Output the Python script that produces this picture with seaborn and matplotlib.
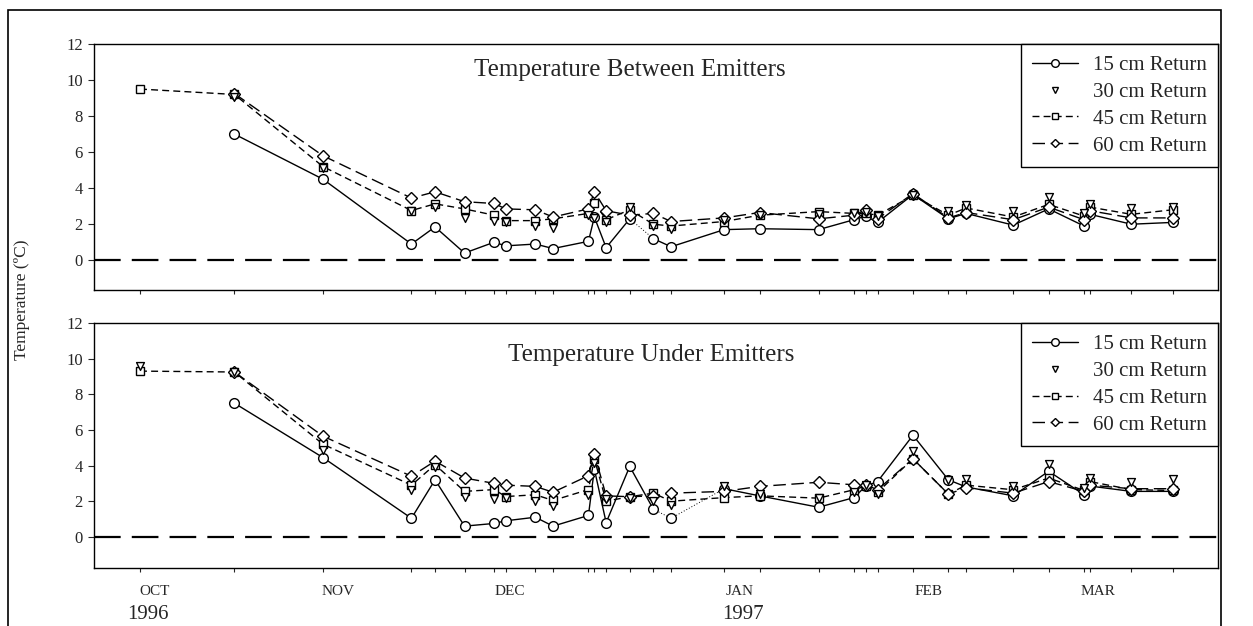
import numpy as np
import pandas as pd
import matplotlib.pyplot as plt
import seaborn as sns
from matplotlib.lines import Line2D
from matplotlib.patches import Rectangle
import matplotlib.transforms as mtransforms

nan = np.nan

# sampling dates, days after 1 Oct 1996
days = [0, 16, 31, 46, 50, 55, 60, 62, 67, 70, 76, 77, 79, 83, 87, 90, 99, 105,
        115, 121, 123, 125, 131, 137, 140, 148, 154, 160, 161, 168, 175]

series = ["15 cm Return", "30 cm Return", "45 cm Return", "60 cm Return"]

# Temperature Between Emitters
top_15 = [nan, 7.0, 4.5, 0.9, 1.85, 0.4, 1.0, 0.8, 0.9, 0.65, 1.05, 2.4, 0.7, 2.3, 1.2, 0.75,
          1.7, 1.75, 1.7, 2.25, 2.45, 2.1, 3.65, 2.3, 2.6, 1.95, 2.85, 1.9, 2.55, 2.0, 2.1]
top_30 = [nan, 9.05, 5.1, 2.75, 2.95, 2.35, 2.2, 2.1, 1.9, 1.8, 2.5, 2.35, 2.15, 2.95, 1.9, 1.75,
          2.25, 2.5, 2.55, 2.6, 2.7, 2.45, 3.6, 2.75, 3.05, 2.75, 3.5, 2.6, 3.1, 2.9, 2.95]
top_45 = [9.5, 9.2, 5.2, 2.76, 3.13, 2.85, 2.5, 2.2, 2.2, 2.3, 2.6, 3.2, 2.25, 2.8, 2.0, 1.9,
          2.15, 2.5, 2.7, 2.6, 2.6, 2.5, 3.6, 2.5, 2.9, 2.4, 3.1, 2.45, 2.95, 2.55, 2.8]
top_60 = [nan, 9.25, 5.8, 3.45, 3.8, 3.25, 3.15, 2.85, 2.8, 2.4, 2.85, 3.8, 2.75, 2.5, 2.6, 2.15,
          2.35, 2.65, 2.3, 2.5, 2.8, 2.3, 3.7, 2.35, 2.65, 2.25, 2.95, 2.25, 2.75, 2.35, 2.35]

# Temperature Under Emitters
bot_15 = [nan, 7.5, 4.45, 1.04, 3.2, 0.6, 0.75, 0.9, 1.1, 0.6, 1.2, 3.8, 0.8, 3.95, 1.55, 1.04,
          2.7, 2.3, 1.66, 2.2, 2.85, 3.1, 5.7, 3.2, 2.8, 2.3, 3.68, 2.36, 2.85, 2.55, 2.55]
bot_30 = [9.6, 9.25, 4.9, 2.65, 3.9, 2.26, 2.1, 2.2, 2.0, 1.74, 2.36, 4.15, 2.1, 2.2, 2.0, 1.8,
          2.85, 2.4, 2.2, 2.5, 2.9, 2.4, 4.8, 3.2, 3.25, 2.83, 4.1, 2.74, 3.3, 3.06, 3.25]
bot_45 = [9.3, 9.25, 5.2, 2.9, 4.05, 2.55, 2.65, 2.26, 2.36, 2.04, 2.65, 4.38, 2.0, 2.25, 2.45, 2.0,
          2.2, 2.3, 2.17, 2.64, 2.85, 2.5, 4.38, 2.4, 2.9, 2.64, 3.3, 2.6, 3.1, 2.65, 2.6]
bot_60 = [nan, 9.25, 5.65, 3.4, 4.25, 3.3, 3.0, 2.9, 2.83, 2.5, 3.43, 4.66, 2.3, 2.25, 2.3, 2.45,
          2.55, 2.83, 3.06, 2.92, 2.92, 2.64, 4.38, 2.4, 2.75, 2.45, 3.1, 2.55, 2.9, 2.7, 2.7]

# 15 cm segments drawn as a thin dotted line (index of first point of the segment)
top_dotted = [13]
bot_dotted = [14, 15]

months = ["OCT", "NOV", "DEC", "JAN", "FEB", "MAR"]
month_pos = [2.5, 33.6, 62.7, 101.7, 133.6, 162.4]
years = ["1996", "1997"]
year_pos = [1.4, 102.2]

sns.set_style("ticks")
plt.rcParams['font.family'] = ['Liberation Serif', 'DejaVu Serif']
plt.rcParams['axes.edgecolor'] = 'black'
plt.rcParams['axes.linewidth'] = 1.0

markers = {"15 cm Return": "o", "30 cm Return": "v", "45 cm Return": "s", "60 cm Return": "D"}
dashes = {"15 cm Return": "", "45 cm Return": (5, 3), "60 cm Return": (9, 4)}
msize = {"o": 7, "v": 5.5, "s": 6, "D": 6}

fig = plt.figure(figsize=(12.53, 6.26), dpi=100)
W, H = 1253, 626
ax1 = fig.add_axes([94 / W, 1 - 290 / H, 1124 / W, 246 / H])
ax2 = fig.add_axes([94 / W, 1 - 568 / H, 1124 / W, 245 / H])


def panel(ax, vals, dotted, title, tpos, ylo):
    df = pd.DataFrame({"day": days})
    for name, v in zip(series, vals):
        df[name] = v
    # dotted pieces of the 15 cm line
    for i in dotted:
        seg = df.iloc[[i, i + 1]]
        sns.lineplot(data=seg, x="day", y="15 cm Return", color="black", lw=0.7,
                     linestyle=(0, (1, 2)), estimator=None, sort=False, ax=ax, legend=False)
    long = df.melt(id_vars="day", var_name="series", value_name="temp").dropna()
    for name in ["15 cm Return", "45 cm Return", "60 cm Return"]:
        sub = long[long["series"] == name].copy()
        m = markers[name]
        if name == "15 cm Return":
            # break the solid line where the dotted pieces are
            pieces = []
            start = 0
            idx = list(sub.index)
            for i in dotted:
                cut = idx.index(i) + 1
                pieces.append(sub.iloc[start:cut])
                start = cut
            pieces.append(sub.iloc[start:])
        else:
            pieces = [sub]
        for p in pieces:
            sns.lineplot(data=p, x="day", y="temp", color="black", estimator=None, sort=False,
                         ax=ax, legend=False, linewidth=1, marker=m, markersize=msize[m],
                         markerfacecolor="white", markeredgecolor="black", markeredgewidth=1,
                         dashes=False, zorder=2)
            ln = ax.get_lines()[-1]
            if dashes[name]:
                ln.set_dashes(dashes[name])
    tri = long[long["series"] == "30 cm Return"]
    sns.scatterplot(data=tri, x="day", y="temp", marker="v", s=32, facecolor="white",
                    edgecolor="black", linewidth=1, ax=ax, legend=False, zorder=3)
    ax.axhline(0, color="black", lw=1.6, dashes=(12, 5), zorder=1)
    ax.set_xlim(-7.8, 182.7)
    ax.set_ylim(ylo, 12)
    ax.set_yticks(range(0, 13, 2))
    ax.set_xticks(days)
    ax.set_xticklabels([])
    ax.tick_params(axis="x", length=3, width=0.8, direction="out")
    ax.tick_params(axis="y", length=4, width=0.8, direction="out", labelsize=12, pad=4)
    ax.set_xlabel("")
    ax.set_ylabel("")
    for s in ax.spines.values():
        s.set_visible(True)
        s.set_linewidth(1.0)
    ax.text(tpos[0], tpos[1], title, transform=ax.transAxes, ha="center", va="center",
            fontsize=18)
    handles = []
    for name in series:
        m = markers[name]
        if name == "30 cm Return":
            h = Line2D([], [], linestyle="none", marker="v", markersize=5, color="black",
                       markerfacecolor="white", markeredgewidth=1)
        else:
            h = Line2D([], [], color="black", lw=1, marker=m, markersize=msize[m] - 1.5,
                       markerfacecolor="white", markeredgewidth=1)
            if dashes[name]:
                h.set_dashes(dashes[name])
        handles.append(h)
    leg = ax.legend(handles, series, loc="upper right", borderaxespad=0, fontsize=15,
                    frameon=True, fancybox=False, edgecolor="black", framealpha=1,
                    handlelength=2.2, handletextpad=0.7, labelspacing=0.35, borderpad=0.55)
    leg.get_frame().set_linewidth(1.0)


panel(ax1, [top_15, top_30, top_45, top_60], top_dotted, "Temperature Between Emitters",
      (0.477, 0.894), -1.65)
panel(ax2, [bot_15, bot_30, bot_45, bot_60], bot_dotted, "Temperature Under Emitters",
      (0.496, 0.869), -1.75)

trans = mtransforms.blended_transform_factory(ax2.transData, ax2.transAxes)
for lab, x in zip(months, month_pos):
    ax2.text(x, -0.094, lab, transform=trans, ha="center", va="center", fontsize=11)
for lab, x in zip(years, year_pos):
    ax2.text(x, -0.19, lab, transform=trans, ha="center", va="center", fontsize=15)

fig.text(22 / W, 1 - 300 / H, "Temperature (ºC)", rotation=90, ha="center", va="center",
         fontsize=12.5)

fig.add_artist(Rectangle((8 / W, -0.02), (1221 - 8) / W, 1 - 10 / H + 0.02,
                         transform=fig.transFigure, fill=False, edgecolor="black", lw=1.2))

fig.savefig("out.png", dpi=100)
